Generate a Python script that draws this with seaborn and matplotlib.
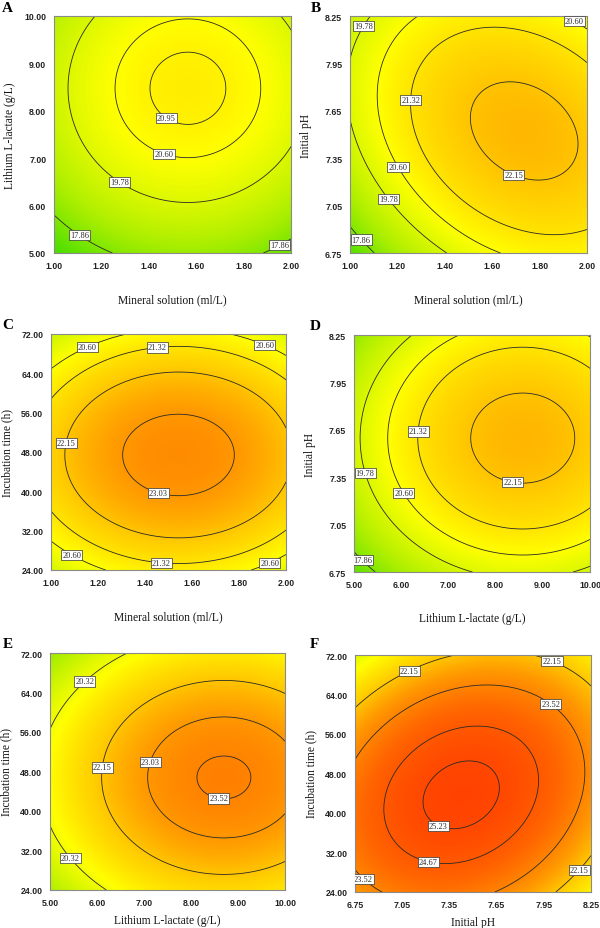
import numpy as np
import matplotlib
matplotlib.use("Agg")
import matplotlib.pyplot as plt
from matplotlib.colors import LinearSegmentedColormap, Normalize
import seaborn as sns

sns.set_theme(style="white")
plt.rcParams["font.family"] = ["Liberation Serif", "DejaVu Serif"]

# factor ranges / tick labels
mineral_ticks = [1.00, 1.20, 1.40, 1.60, 1.80, 2.00]
lactate_ticks = [5.00, 6.00, 7.00, 8.00, 9.00, 10.00]
ph_ticks = [6.75, 7.05, 7.35, 7.65, 7.95, 8.25]
time_ticks = [24.00, 32.00, 40.00, 48.00, 56.00, 64.00, 72.00]

factor_ticks = {"mineral": mineral_ticks, "lactate": lactate_ticks,
                "ph": ph_ticks, "time": time_ticks}
factor_names = {"mineral": "Mineral solution (ml/L)",
                "lactate": "Lithium L-lactate (g/L)",
                "ph": "Initial pH",
                "time": "Incubation time (h)"}

letters = ["A", "B", "C", "D", "E", "F"]
x_factor = ["mineral", "mineral", "mineral", "lactate", "lactate", "ph"]
y_factor = ["lactate", "ph", "time", "ph", "time", "time"]

# quadratic response surface (coded units, -1..1)
peak_yield = [21.08, 22.39, 23.31, 22.42, 23.59, 25.41]
opt_x = [0.13, 0.47, 0.085, 0.43, 0.48, -0.10]
opt_y = [0.39, 0.03, -0.025, 0.13, -0.05, -0.18]
curv_x = [1.27, 1.25, 1.24, 1.39, 1.33, 1.80]
curv_y = [1.40, 1.50, 2.35, 1.87, 2.15, 2.30]
interaction = [0.0, 0.72, 0.0, 0.0, 0.0, -0.85]

contour_levels = [
    [17.86, 19.78, 20.60, 20.95],
    [17.86, 19.78, 20.60, 21.32, 22.15],
    [20.60, 21.32, 22.15, 23.03],
    [17.86, 19.78, 20.60, 21.32, 22.15],
    [20.32, 22.15, 23.03, 23.52],
    [22.15, 23.52, 24.67, 25.23],
]

label_spots = [
    [(1.48, 7.90), (1.47, 7.18), (1.29, 6.58), (1.12, 5.47), (1.95, 5.19)],
    [(1.05, 8.19), (1.93, 8.17), (1.24, 7.72), (1.21, 7.30), (1.18, 7.11),
     (1.08, 6.88), (1.70, 7.28)],
    [(1.15, 69.7), (1.45, 70.2), (1.92, 71.0), (1.04, 50.1), (1.46, 40.4),
     (1.09, 27.2), (1.47, 26.2), (1.92, 26.7)],
    [(6.34, 7.64), (5.27, 7.38), (6.12, 7.26), (8.38, 7.34), (5.23, 6.84)],
    [(5.68, 66.9), (6.13, 48.8), (7.06, 50.1), (8.60, 42.9), (5.61, 31.8)],
    [(7.09, 69.2), (8.00, 70.6), (7.99, 61.9), (7.29, 38.1), (7.22, 30.9),
     (6.82, 27.3), (8.17, 28.6)],
]

# colour ramp (response value -> colour)
ramp_values = [16.7, 18.6, 20.6, 22.0, 23.0, 24.3, 25.5]
ramp_colors = ["#44dd00", "#aaee00", "#ffff00", "#ffcc00", "#ff9900",
               "#ff6400", "#ff4000"]

vmin, vmax = ramp_values[0], ramp_values[-1]
cmap = LinearSegmentedColormap.from_list(
    "resp", [((v - vmin) / (vmax - vmin), c) for v, c in zip(ramp_values, ramp_colors)])
norm = Normalize(vmin, vmax)

W, H = 600, 929
# left, top, right, bottom in pixels
AX_PX = [(54, 17, 291, 254), (350, 17, 587, 254),
         (51, 335, 286, 571), (354, 336, 590, 573),
         (50, 654, 285, 891), (355, 656, 591, 893)]
LETTER_PX = [(2, 2), (311, 2), (2, 319), (310, 320), (3, 638), (310, 638)]
XLABEL_OFF = [-0.17, -0.17, -0.17, -0.17, -0.10, -0.10]

fig = plt.figure(figsize=(6, 9.29), dpi=100)

for i in range(6):
    l, t, r, b = AX_PX[i]
    ax = fig.add_axes([l / W, 1 - b / H, (r - l) / W, (b - t) / H])
    xt = factor_ticks[x_factor[i]]
    yt = factor_ticks[y_factor[i]]
    xs = np.linspace(xt[0], xt[-1], 300)
    ys = np.linspace(yt[0], yt[-1], 300)
    X, Y = np.meshgrid(xs, ys)
    du = (X - (xt[0] + xt[-1]) / 2) / ((xt[-1] - xt[0]) / 2) - opt_x[i]
    dv = (Y - (yt[0] + yt[-1]) / 2) / ((yt[-1] - yt[0]) / 2) - opt_y[i]
    Z = peak_yield[i] - curv_x[i] * du ** 2 - curv_y[i] * dv ** 2 - interaction[i] * du * dv

    ax.imshow(Z, origin="lower", extent=[xt[0], xt[-1], yt[0], yt[-1]],
              aspect="auto", cmap=cmap, norm=norm, interpolation="bilinear")
    cs = ax.contour(X, Y, Z, levels=contour_levels[i], colors="#2a2a2a", linewidths=0.6)
    lbls = ax.clabel(cs, fmt="%.2f", manual=label_spots[i], inline=False, fontsize=6)
    for tx in lbls:
        tx.set_rotation(0)
        tx.set_bbox(dict(facecolor="white", edgecolor="#333333", linewidth=0.5, pad=0.8))

    ax.set_xlim(xt[0], xt[-1])
    ax.set_ylim(yt[0], yt[-1])
    ax.set_xticks(xt)
    ax.set_yticks(yt)
    ax.set_xticklabels([f"{v:.2f}" for v in xt])
    ax.set_yticklabels([f"{v:.2f}" for v in yt])
    for lab in ax.get_xticklabels() + ax.get_yticklabels():
        lab.set_fontfamily("Liberation Sans")
        lab.set_fontweight("bold")
        lab.set_fontsize(6.3)
        lab.set_color("#222222")
    ax.tick_params(axis="x", length=0, pad=6)
    ax.tick_params(axis="y", length=0, pad=5.5)
    for sp in ax.spines.values():
        sp.set_color("#8a8a8a")
        sp.set_linewidth(0.8)

    ax.set_xlabel(factor_names[x_factor[i]], fontsize=8.3, color="#111111")
    ax.set_ylabel(factor_names[y_factor[i]], fontsize=8.3, color="#111111")
    ax.xaxis.set_label_coords(0.5, XLABEL_OFF[i])
    ax.yaxis.set_label_coords(-0.16, 0.5)

    lx, ly = LETTER_PX[i]
    fig.text(lx / W, 1 - ly / H, letters[i], fontsize=11, fontweight="bold",
             va="top", ha="left", color="#000000")

fig.savefig("out.png", dpi=100)
